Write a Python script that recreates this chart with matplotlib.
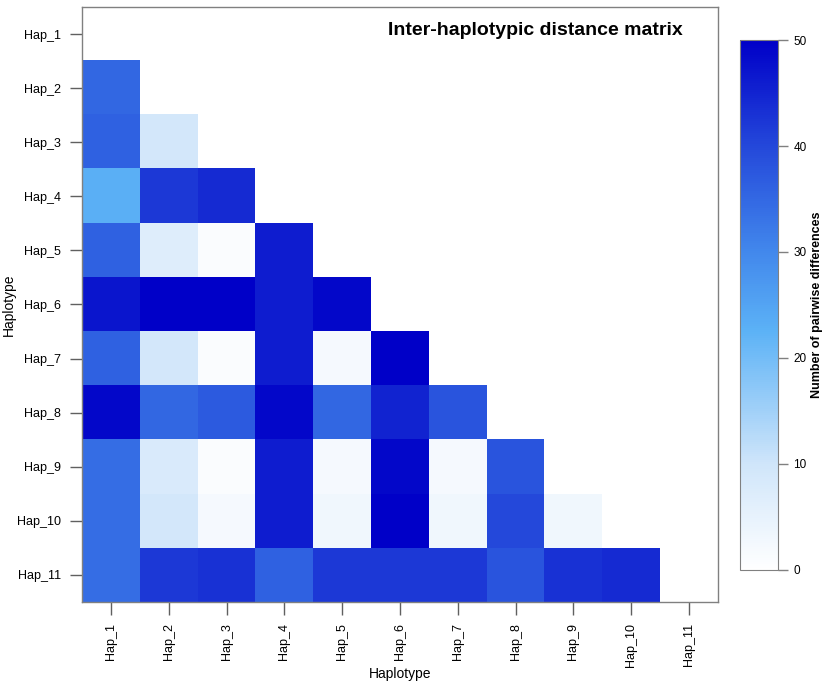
import numpy as np
import matplotlib
matplotlib.use("Agg")
import matplotlib.pyplot as plt
from matplotlib.colors import LinearSegmentedColormap

plt.rcParams['font.family'] = ['Liberation Sans', 'DejaVu Sans']

haps = ["Hap_1", "Hap_2", "Hap_3", "Hap_4", "Hap_5", "Hap_6",
        "Hap_7", "Hap_8", "Hap_9", "Hap_10", "Hap_11"]

# lower triangle, row i holds distances to Hap_1 .. Hap_(i)
row_2 = [35]
row_3 = [36, 9]
row_4 = [23, 42, 44]
row_5 = [36, 7, 1, 46]
row_6 = [47, 50, 50, 46, 49]
row_7 = [36, 9, 1, 46, 2, 50]
row_8 = [49, 35, 37, 49, 35, 45, 38]
row_9 = [34, 8, 1, 46, 2, 49, 2, 38]
row_10 = [34, 9, 2, 46, 3, 50, 3, 40, 3]
row_11 = [34, 42, 43, 36, 42, 42, 42, 38, 43, 44]
rows = [[], row_2, row_3, row_4, row_5, row_6, row_7, row_8, row_9, row_10, row_11]

n = len(haps)
mat = np.full((n, n), np.nan)
for i, r in enumerate(rows):
    for j, v in enumerate(r):
        mat[i, j] = v
mat = np.ma.masked_invalid(mat)

cmap = LinearSegmentedColormap.from_list(
    "hapblue",
    [(0.0, "#ffffff"), (0.2, "#cfe5fa"), (0.45, "#5cb2f6"),
     (0.6, "#4288ec"), (0.8, "#2448da"), (1.0, "#0000c8")])

fig = plt.figure(figsize=(8.26, 6.84), dpi=100)
ax = fig.add_axes([0.0993, 0.1199, 0.7697, 0.8699])
im = ax.imshow(mat, cmap=cmap, vmin=0, vmax=50, aspect="auto",
               interpolation="nearest")
ax.set_xlim(-0.5, n - 0.5)
ax.set_ylim(n - 0.5, -0.5)

for s in ax.spines.values():
    s.set_color("#808080")
    s.set_linewidth(1)

ax.set_xticks(range(n))
ax.set_xticklabels(haps, rotation=90, fontsize=9)
ax.set_yticks(range(n))
ax.set_yticklabels(haps, fontsize=9)
ax.tick_params(length=9, width=1, color="#606060", pad=6)
ax.set_xlabel("Haplotype", fontsize=10, labelpad=0)
ax.set_ylabel("Haplotype", fontsize=10, labelpad=1)
ax.text(0.945, 0.96, "Inter-haplotypic distance matrix", transform=ax.transAxes,
        ha="right", va="center", fontsize=14, fontweight="bold")

cax = fig.add_axes([0.896, 0.1667, 0.046, 0.7748])
cb = fig.colorbar(im, cax=cax, ticks=[0, 10, 20, 30, 40, 50])
cb.outline.set_edgecolor("#808080")
cb.ax.tick_params(length=7, width=1, color="#808080", labelsize=8.5, pad=4)
cb.set_label("Number of pairwise differences", fontsize=9, fontweight="bold",
             labelpad=3)

fig.savefig("out.png", dpi=100)
